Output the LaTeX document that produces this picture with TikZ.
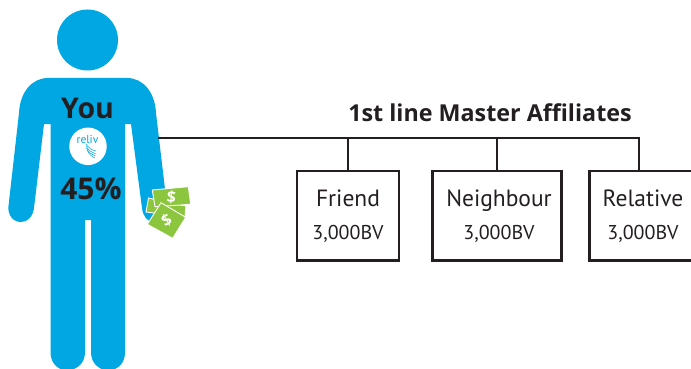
\documentclass[tikz,border=0pt]{standalone}
\usepackage{fontspec}
\setmainfont{PT Sans}
\newfontfamily\heavyfont{Open Sans}
\definecolor{bodyblue}{HTML}{00A7E3}
\definecolor{ink}{HTML}{231F20}
\definecolor{bill}{HTML}{8CC63F}
\tikzset{
  figure/.style={fill=bodyblue,draw=none},
  boxnode/.style={draw=ink,line width=2.7pt,minimum height=89.5pt,inner sep=0pt,align=center,text=ink,font=\fontsize{23.5}{33}\selectfont},
  wire/.style={draw=ink,line width=2.7pt},
  billshape/.style={fill=bill,draw=white,line width=0.9pt,line join=miter},
  bigtext/.style={text=ink,font=\heavyfont\fontsize{30}{30}\selectfont\bfseries,inner sep=0pt},
  youtext/.style={text=ink,font=\heavyfont\fontsize{28.5}{30}\selectfont\bfseries,inner sep=0pt},
  titletext/.style={text=ink,font=\heavyfont\fontsize{23.3}{26}\selectfont\bfseries,inner sep=0pt},
  dollar/.style={text=white,font=\heavyfont\fontsize{16}{16}\selectfont\bfseries,inner sep=0pt},
  waveline/.style={draw=bodyblue,line width=0.5pt}
}
\newcommand{\bvline}{{\fontsize{20}{20}\selectfont 3,000BV}}
\begin{document}
\begin{tikzpicture}[x=1pt,y=-1pt]
\useasboundingbox (0,0) rectangle (691,369);
\clip (0,0) rectangle (691,369);
% person
\fill[figure] (87.5,40) circle (30.5);
\fill[figure]
  (48,78) -- (127,78)
  .. controls (143,78) and (155,92) .. (156,113)
  -- (167,206)
  .. controls (168,216) and (160,222) .. (154,222)
  .. controls (147,222) and (143,216) .. (142,208)
  -- (131,124) -- (125,124)
  -- (125,352)
  .. controls (125,362) and (120,369) .. (108,371)
  .. controls (97,369) and (91,362) .. (91,352)
  -- (91,220) -- (85,220)
  -- (85,352)
  .. controls (85,362) and (79,369) .. (67,371)
  .. controls (56,369) and (50.5,362) .. (50.5,352)
  -- (50.5,124) -- (44,124)
  -- (34,208)
  .. controls (33,216) and (28,222) .. (21,222)
  .. controls (13,222) and (7.5,215) .. (8.5,206)
  -- (19,113)
  .. controls (20,92) and (32,78) .. (48,78) -- cycle;
% logo
\node[fill=white,circle,minimum size=37.5pt,inner sep=0pt] (logo) at (88,146.3) {};
\node[text=bodyblue,font=\fontsize{11.5}{12}\selectfont,inner sep=0pt] (logotext) at (87.5,139) {reliv};
\draw[waveline] (86,144) .. controls (89,148) and (91,150) .. (96,151);
\draw[waveline] (86,146) .. controls (88,150) and (91,152) .. (96,154);
\draw[waveline] (86.5,148) .. controls (88,152) and (91,154) .. (95.5,156);
\draw[waveline] (87,150) .. controls (89,154) and (92,157) .. (95,158);
\node[youtext] (you) at (87.5,108) {You};
\node[bigtext] (pct) at (91,189) {45\%};
% money
\fill[billshape] (148.5,198) -- (186,206) -- (185,217) -- (146,212) -- cycle;
\fill[billshape] (152.3,190) -- (188.3,186.7) -- (190.7,204.3) -- (155,206.7) -- cycle;
\fill[billshape] (147.3,224.3) -- (161,202.7) -- (185.7,217.3) -- (172.7,238.3) -- cycle;
\node[dollar,rotate=-5] (d1) at (171.5,197) {\$};
\node[dollar,rotate=30] (d2) at (166.5,220.5) {\$};
% chart
\node[titletext] (title) at (490,113) {1st line Master Affiliates};
\node[boxnode,minimum width=102pt] (friend) at (348,215.7) {Friend\\\bvline};
\node[boxnode,minimum width=129.5pt] (neighbour) at (497,215.7) {\hspace*{4pt}Neighbour\\\hspace*{4pt}\bvline};
\node[boxnode,minimum width=107pt] (relative) at (643,215.7) {Relative\\\bvline};
\coordinate (trunkstart) at (159,138);
\coordinate (trunkend) at (639,138);
\draw[wire,line cap=rect] (trunkstart) -- (trunkend);
\draw[wire] (trunkstart -| friend.north) -- (friend.north);
\draw[wire] (trunkstart -| neighbour.north) -- (neighbour.north);
\draw[wire] (trunkend) -- (trunkend |- relative.north);
\end{tikzpicture}
\end{document}
